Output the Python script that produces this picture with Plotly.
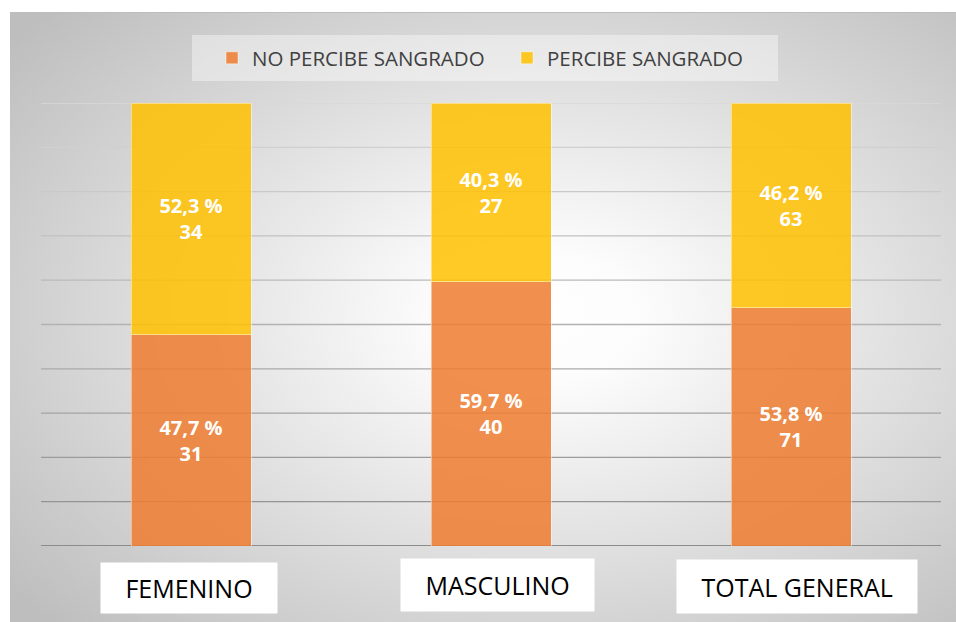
import base64
import plotly.graph_objects as go

# ---------------- data ----------------
categories = ["FEMENINO", "MASCULINO", "TOTAL GENERAL"]
series_names = ["NO PERCIBE SANGRADO", "PERCIBE SANGRADO"]
no_percibe_pct = [47.7, 59.7, 53.8]
no_percibe_n = [31, 40, 71]
percibe_pct = [52.3, 40.3, 46.2]
percibe_n = [34, 27, 63]
grid_ticks = [0, 10, 20, 30, 40, 50, 60, 70, 80, 90, 100]

# ---------------- geometry helpers (pixels -> paper) ----------------
W, H = 956, 622
ML, MR, MT, MB = 41, 15, 103, 76
L, R, T, B = ML, W - MR, MT, H - MB


def px(x):
    return (x - L) / (R - L)


def py(y):
    return (B - y) / (B - T)


# radial-gradient panel behind the chart
svg = (
    '<svg xmlns="http://www.w3.org/2000/svg" width="946" height="610" '
    'viewBox="0 0 946 610" preserveAspectRatio="none">'
    '<defs><radialGradient id="g" cx="0.56" cy="0.5" r="0.72" fx="0.56" fy="0.5">'
    '<stop offset="0" stop-color="#ffffff"/>'
    '<stop offset="0.15" stop-color="#fcfcfc"/>'
    '<stop offset="1" stop-color="#bebebe"/>'
    '</radialGradient></defs>'
    '<rect width="946" height="610" fill="url(#g)"/>'
    '<line x1="0" y1="0.5" x2="946" y2="0.5" stroke="#bdbdbd" stroke-width="1"/>'
    '</svg>'
)
svg_uri = "data:image/svg+xml;base64," + base64.b64encode(svg.encode()).decode()

colors = ["rgba(237,125,49,0.86)", "rgba(255,192,0,0.85)"]

fig = go.Figure()
for name, pct, n, col in [
    (series_names[0], no_percibe_pct, no_percibe_n, colors[0]),
    (series_names[1], percibe_pct, percibe_n, colors[1]),
]:
    fig.add_trace(
        go.Bar(
            name=name,
            x=categories,
            y=pct,
            customdata=n,
            marker=dict(color=col, line=dict(color="rgba(255,255,255,0.45)", width=1)),
            texttemplate="%{y:.1f} %<br>%{customdata}",
            textposition="inside",
            insidetextanchor="middle",
            textangle=0,
            constraintext="none",
            textfont=dict(family="Open Sans", size=20, color="white", weight="bold"),
            hoverinfo="skip",
        )
    )

# graded gridlines (light at top, darker at the bottom)
shapes = []
n_t = len(grid_ticks) - 1
for i, t in enumerate(grid_ticks):
    f = i / n_t
    c0, c1 = 140, 216
    c = int(round(c0 + (c1 - c0) * f))
    shapes.append(
        dict(
            type="line", xref="paper", yref="y", x0=0, x1=1, y0=t, y1=t,
            line=dict(color=f"rgb({c},{c},{c})", width=2 if i == 0 else 1.3),
            layer="below",
        )
    )

# legend background box
shapes.append(
    dict(
        type="rect", xref="paper", yref="paper",
        x0=px(192), x1=px(778), y0=py(81), y1=py(35),
        fillcolor="rgba(255,255,255,0.4)", line=dict(width=0), layer="below",
    )
)

# category label boxes (left, right, top, bottom in px)
label_boxes = [(100.7, 276.7, 562, 612), (400.7, 594, 558, 610), (676.7, 917, 559, 612)]
annotations = []
step = (R - L) / len(categories)
for i, (cat, (x0, x1, y0, y1)) in enumerate(zip(categories, label_boxes)):
    cc = L + (i + 0.5) * step
    annotations.append(
        dict(
            text=cat, x=cat, xref="x", y=py(y0), yref="paper",
            xanchor="center", yanchor="top", xshift=(x0 + x1) / 2 - cc,
            width=x1 - x0, height=y1 - y0, bgcolor="white", borderpad=0,
            showarrow=False, valign="middle", align="center",
            font=dict(family="Open Sans", size=25, color="#000000"),
        )
    )

fig.update_layout(
    width=W, height=H,
    margin=dict(l=ML, r=MR, t=MT, b=MB, pad=0),
    paper_bgcolor="white",
    plot_bgcolor="rgba(0,0,0,0)",
    barmode="stack",
    bargap=0.6,
    separators=",.",
    showlegend=True,
    legend=dict(
        orientation="h", x=px(212), xanchor="left", y=py(58), yanchor="middle",
        bgcolor="rgba(0,0,0,0)", font=dict(family="Open Sans", size=20.5, color="#404040"),
        entrywidth=250, entrywidthmode="pixels", traceorder="normal",
    ),
    xaxis=dict(showgrid=False, showline=False, zeroline=False, showticklabels=False, ticks=""),
    yaxis=dict(range=[0, 100], showgrid=False, showline=False, zeroline=False,
               showticklabels=False, ticks=""),
    images=[
        dict(
            source=svg_uri, xref="paper", yref="paper",
            x=px(10), y=py(12), sizex=px(956) - px(10), sizey=py(12) - py(622),
            xanchor="left", yanchor="top", sizing="stretch", layer="below",
        )
    ],
    shapes=shapes,
    annotations=annotations,
)

fig.write_html(
    "out.html",
    config={"displayModeBar": False},
    post_script="document.body.style.margin='0';document.body.style.overflow='hidden';",
)
